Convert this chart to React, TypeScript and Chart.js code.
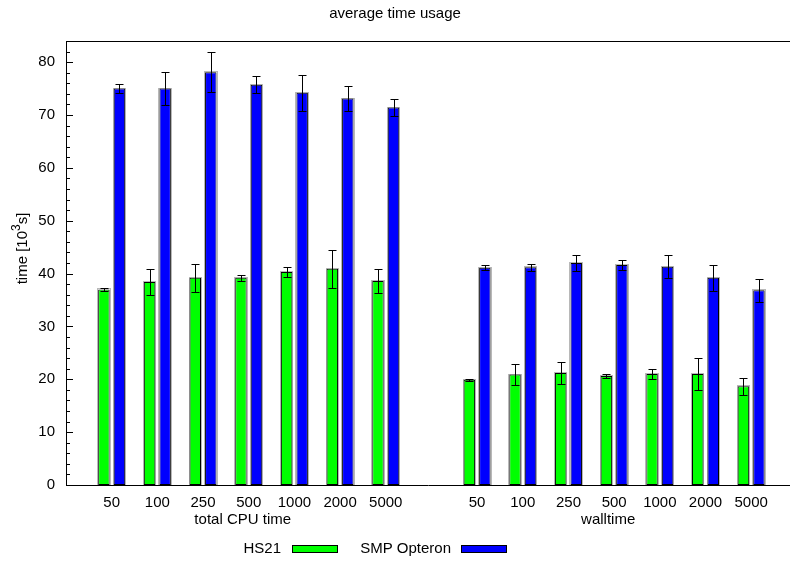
import React, { useEffect, useRef } from 'react';
import { Chart, registerables } from 'chart.js';

Chart.register(...registerables);

const chartTitle = 'average time usage';
const categories = ['50', '100', '250', '500', '1000', '2000', '5000'];
const groupTitles = ['total CPU time', 'walltime'];
const seriesNames = ['HS21', 'SMP Opteron'];
const seriesColors = ['#00ff00', '#0000ff'];

const hs21Cpu = [37.0, 38.4, 39.2, 39.2, 40.3, 40.9, 38.6];
const hs21CpuErr = [0.3, 2.4, 2.6, 0.6, 1.0, 3.6, 2.2];
const smpCpu = [75.0, 75.0, 78.1, 75.7, 74.2, 73.1, 71.4];
const smpCpuErr = [0.8, 3.2, 3.8, 1.6, 3.4, 2.4, 1.6];
const hs21Wall = [19.9, 20.9, 21.2, 20.6, 21.0, 21.0, 18.7];
const hs21WallErr = [0.2, 1.9, 2.1, 0.45, 0.9, 3.0, 1.6];
const smpWall = [41.1, 41.2, 42.0, 41.6, 41.3, 39.2, 36.85];
const smpWallErr = [0.45, 0.65, 1.6, 0.9, 2.2, 2.5, 2.15];

const yTicks = [0, 10, 20, 30, 40, 50, 60, 70, 80];
const yMinorStep = 2;
const yMax = 84;

const FONT = '"Liberation Sans", Arial, Helvetica, sans-serif';

export default function App() {
  const ref = useRef<HTMLCanvasElement | null>(null);

  useEffect(() => {
    if (!ref.current) return;
    const slot = categories.length + 1;
    const xs = groupTitles.flatMap((_, g) => categories.map((_, i) => g * slot + i));
    const hsVals = [...hs21Cpu, ...hs21Wall];
    const smpVals = [...smpCpu, ...smpWall];
    const errs = [
      [...hs21CpuErr, ...hs21WallErr],
      [...smpCpuErr, ...smpWallErr],
    ];

    Chart.defaults.font.family = FONT;
    Chart.defaults.font.size = 15;
    Chart.defaults.color = '#000';

    const barHalo = {
      id: 'barHalo',
      beforeDatasetsDraw(chart: any) {
        const ctx = chart.ctx;
        ctx.save();
        ctx.strokeStyle = 'rgba(0,0,0,0.28)';
        ctx.lineWidth = 1;
        chart.data.datasets.forEach((_: any, di: number) => {
          const meta = chart.getDatasetMeta(di);
          meta.data.forEach((bar: any) => {
            const l = Math.round(bar.x - bar.width / 2) - 0.5;
            const r = Math.round(bar.x + bar.width / 2) + 0.5;
            const t = Math.round(bar.y) - 0.5;
            const b = Math.round(bar.base);
            ctx.strokeRect(l, t, r - l, b - t);
          });
        });
        ctx.restore();
      },
    };

    const errorBars = {
      id: 'errorBars',
      afterDatasetsDraw(chart: any) {
        const ctx = chart.ctx;
        const ys = chart.scales.y;
        ctx.save();
        ctx.strokeStyle = '#000';
        ctx.lineWidth = 1;
        chart.data.datasets.forEach((ds: any, di: number) => {
          const meta = chart.getDatasetMeta(di);
          meta.data.forEach((bar: any, j: number) => {
            const v = ds.data[j].y;
            const e = errs[di][j];
            const cx = Math.round(bar.x) + 0.5;
            const yt = Math.round(ys.getPixelForValue(v + e)) + 0.5;
            const yb = Math.round(ys.getPixelForValue(v - e)) + 0.5;
            ctx.beginPath();
            ctx.moveTo(cx, yt);
            ctx.lineTo(cx, yb);
            ctx.moveTo(cx - 4, yt);
            ctx.lineTo(cx + 4, yt);
            ctx.moveTo(cx - 4, yb);
            ctx.lineTo(cx + 4, yb);
            ctx.stroke();
          });
        });
        ctx.restore();
      },
    };

    const decorations = {
      id: 'decorations',
      afterDraw(chart: any) {
        const ctx = chart.ctx;
        const ca = chart.chartArea;
        const ys = chart.scales.y;
        const xsc = chart.scales.x;
        ctx.save();
        ctx.strokeStyle = '#000';
        ctx.lineWidth = 1;
        // top border
        ctx.beginPath();
        ctx.moveTo(ca.left, Math.round(ca.top) + 0.5);
        ctx.lineTo(ca.right, Math.round(ca.top) + 0.5);
        ctx.stroke();
        // inward y ticks
        ctx.beginPath();
        for (let v = 0; v <= yMax; v += yMinorStep) {
          const py = Math.round(ys.getPixelForValue(v)) + 0.5;
          const len = v % 10 === 0 ? 7 : 4;
          ctx.moveTo(ca.left, py);
          ctx.lineTo(ca.left + len, py);
        }
        ctx.stroke();

        ctx.fillStyle = '#000';
        ctx.font = `15px ${FONT}`;
        ctx.textBaseline = 'middle';
        // group titles
        ctx.textAlign = 'center';
        groupTitles.forEach((t, g) => {
          const mid = g * slot + (categories.length - 1) / 2;
          ctx.fillText(t, xsc.getPixelForValue(mid) - 6, 520);
        });

        // legend (text then swatch)
        const legendItems = [
          { textRight: 281, swLeft: 292 },
          { textRight: 451, swLeft: 461 },
        ];
        ctx.textAlign = 'right';
        seriesNames.forEach((name, i) => {
          const li = legendItems[i];
          ctx.fillStyle = '#000';
          ctx.fillText(name, li.textRight, 549);
          ctx.fillStyle = seriesColors[i];
          ctx.fillRect(li.swLeft, 545.5, 45, 7);
          ctx.strokeStyle = '#000';
          ctx.strokeRect(li.swLeft + 0.5, 545.5, 45, 7);
        });

        // y axis label with superscript
        const p1 = 'time [10';
        const p2 = '3';
        const p3 = 's]';
        ctx.font = `15px ${FONT}`;
        const w1 = ctx.measureText(p1).width;
        const w3 = ctx.measureText(p3).width;
        ctx.font = `12px ${FONT}`;
        const w2 = ctx.measureText(p2).width;
        const total = w1 + w2 + w3;
        ctx.translate(27, 248.5);
        ctx.rotate(-Math.PI / 2);
        ctx.textAlign = 'left';
        ctx.textBaseline = 'alphabetic';
        ctx.fillStyle = '#000';
        let x0 = -total / 2;
        ctx.font = `15px ${FONT}`;
        ctx.fillText(p1, x0, 0);
        x0 += w1;
        ctx.font = `12px ${FONT}`;
        ctx.fillText(p2, x0, -7);
        x0 += w2;
        ctx.font = `15px ${FONT}`;
        ctx.fillText(p3, x0, 0);
        ctx.restore();
      },
    };

    const chart = new Chart(ref.current, {
      type: 'bar',
      data: {
        datasets: [
          {
            label: seriesNames[0],
            data: xs.map((x, i) => ({ x, y: hsVals[i] })),
            backgroundColor: seriesColors[0],
            borderColor: '#000',
            borderWidth: 1,
            borderSkipped: false,
            categoryPercentage: 0.68,
            barPercentage: 0.74,
          },
          {
            label: seriesNames[1],
            data: xs.map((x, i) => ({ x, y: smpVals[i] })),
            backgroundColor: seriesColors[1],
            borderColor: '#000',
            borderWidth: 1,
            borderSkipped: false,
            categoryPercentage: 0.68,
            barPercentage: 0.74,
          },
        ],
      },
      options: {
        responsive: false,
        animation: false,
        devicePixelRatio: 1,
        layout: { padding: 0 },
        plugins: {
          legend: { display: false },
          tooltip: { enabled: false },
          title: {
            display: true,
            text: chartTitle,
            color: '#000',
            font: { size: 15, weight: 'normal', family: FONT },
            padding: { top: 5, bottom: 18 },
          },
        },
        scales: {
          x: {
            type: 'linear',
            min: -1,
            max: 14.85,
            offset: false,
            grid: { display: false, drawTicks: false },
            border: { display: true, color: '#000', width: 1 },
            afterBuildTicks: (scale: any) => {
              scale.ticks = xs.map((v) => ({ value: v }));
            },
            afterFit: (scale: any) => {
              scale.height = 78;
            },
            ticks: {
              padding: 9,
              color: '#000',
              maxRotation: 0,
              autoSkip: false,
              font: { size: 15, family: FONT },
              callback: (value: any) => categories[Number(value) % slot],
            },
          },
          y: {
            type: 'linear',
            min: 0,
            max: yMax,
            grid: { display: false, drawTicks: false },
            border: { display: true, color: '#000', width: 1 },
            afterBuildTicks: (scale: any) => {
              scale.ticks = yTicks.map((v) => ({ value: v }));
            },
            afterFit: (scale: any) => {
              scale.width = 66;
            },
            ticks: {
              padding: 11,
              color: '#000',
              font: { size: 15, family: FONT },
            },
          },
        },
      },
      plugins: [barHalo, errorBars, decorations],
    } as any);

    return () => chart.destroy();
  }, []);

  return (
    <div style={{ position: 'absolute', left: 0, top: 0, width: 790, height: 563, background: '#fff' }}>
      <canvas ref={ref} width={790} height={563} style={{ display: 'block' }} />
    </div>
  );
}
